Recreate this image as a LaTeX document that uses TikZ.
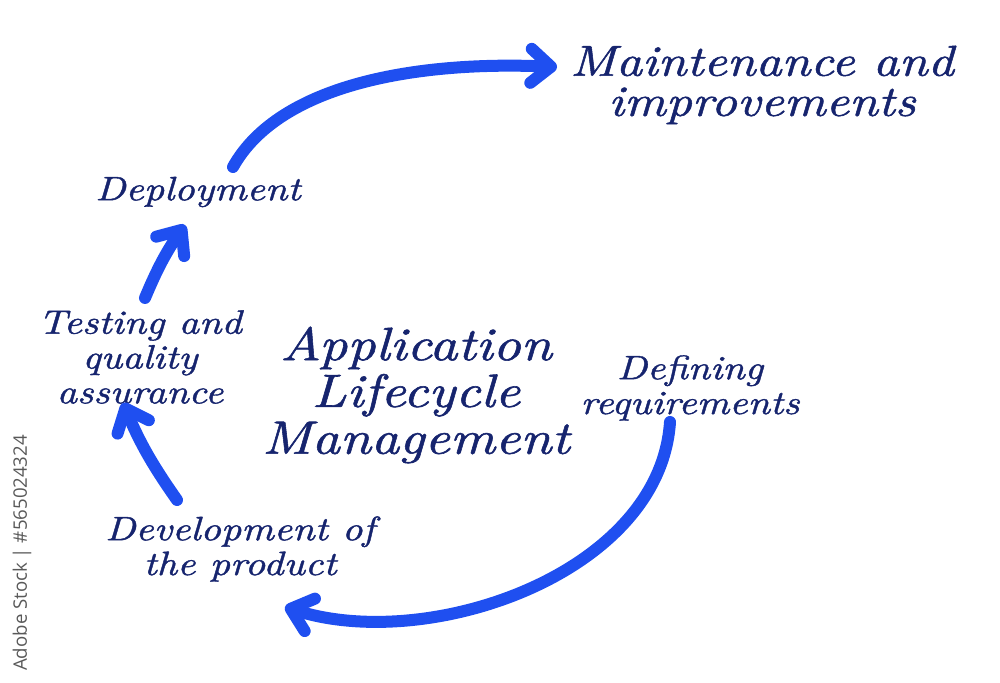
\documentclass[tikz,border=0pt]{standalone}
\usepackage{fontspec}
\newfontfamily\hand[FakeStretch=1.18, FakeBold=1.2]{lmroman10-italic.otf}
\newfontfamily\stockfont{Open Sans}
\usetikzlibrary{arrows.meta}
\definecolor{ink}{HTML}{16246E}
\definecolor{marker}{HTML}{1F4FF0}

\begin{document}
\begin{tikzpicture}[%
        > = {Straight Barb[length=2mm, width=3.4mm, round]},
        x = 0.01cm, y = 0.01cm,
        line cap = round,
        txt/.style = {text = ink, align = center, inner sep = 0pt,
            font = \hand\fontsize{9.6}{9.9}\selectfont},
        flow/.style = {->, draw = marker, line width = 1.2mm}
    ]
        \useasboundingbox (0,0) rectangle (1000,683);

        % the stages round the cycle.
        \node[txt] (defining) at (690,295) {Defining\\requirements};
        \node[txt] (develop) at (240,134) {Development of\\the product};
        \node[txt] (testing) at (140,326) {Testing and\\quality\\assurance};
        \node[txt] (deploy) at (198,491) {Deployment};
        \node[txt, font = \hand\fontsize{12.3}{11.4}\selectfont] (maint) at (762,598)
            {Maintenance and\\improvements};

        % Title in the middle.
        \node[txt, font = \hand\fontsize{13.3}{13.3}\selectfont] (alm) at (416,288)
            {Application\\Lifecycle\\Management};

        % stock mark on the left edge.
        \node[rotate = 90, text = black!65, font = \stockfont\fontsize{5.3}{6}\selectfont]
            (stock) at (22,130) {Adobe Stock | \#565024324};

        % ends of the hand drawn arrows.
        \coordinate (A1) at (670,261);
        \coordinate (A2) at (285,76);
        \coordinate (B1) at (177,183);
        \coordinate (B2) at (123,280);
        \coordinate (C1) at (145,385);
        \coordinate (C2) at (185,458);
        \coordinate (D1) at (233,516);
        \coordinate (D2) at (557,616);

        % Arrows.
        \begin{scope}[flow]
            \draw (A1) .. controls (660,110) and (430,30) .. (A2);
            \draw (B1) to [bend left = 6] (B2);
            \draw (C1) to [bend left = 6] (C2);
            \draw (D1) .. controls (280,600) and (420,622) .. (D2);
        \end{scope}
    \end{tikzpicture}
\end{document}
